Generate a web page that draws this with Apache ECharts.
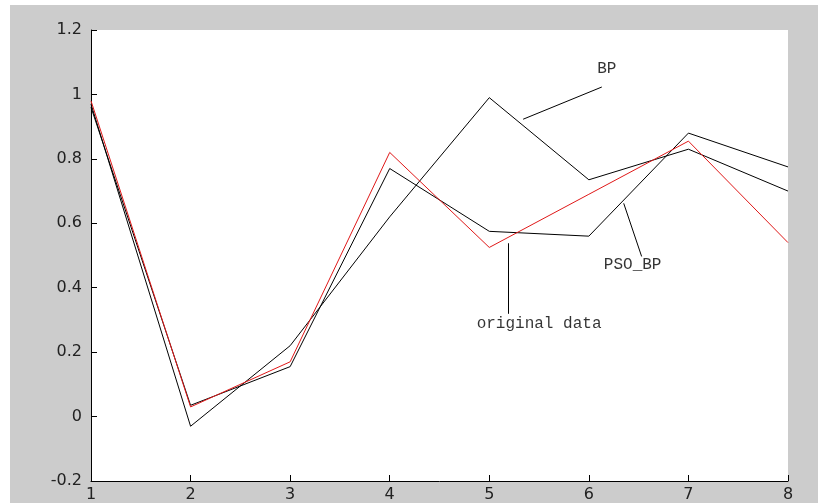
<!DOCTYPE html>
<html>
<head>
<meta charset="utf-8">
<script src="https://cdn.jsdelivr.net/npm/echarts@6/dist/echarts.min.js"></script>
<style>
  html, body { margin: 0; padding: 0; background: #ffffff; }
  #chart { width: 818px; height: 503px; }
</style>
</head>
<body>
<div id="chart"></div>
<script>
// Sample index along the horizontal axis
const samples = [1, 2, 3, 4, 5, 6, 7, 8];

// Measured series and the two network predictions
const originalData = [0.98, 0.03, 0.17, 0.82, 0.525, 0.69, 0.855, 0.54];
const bpOutput     = [0.97, -0.03, 0.22, 0.62, 0.99, 0.735, 0.83, 0.70];
const psoBpOutput  = [0.96, 0.035, 0.155, 0.77, 0.575, 0.56, 0.88, 0.775];

// Axis ticks
const yTicks = [-0.2, 0, 0.2, 0.4, 0.6, 0.8, 1, 1.2];

// Callout annotations: label text, label anchor, and leader line (data units)
const calloutText   = ['BP', 'original data', 'PSO_BP'];
const calloutAnchor = [[6.18, 1.08], [5.50, 0.288], [6.44, 0.471]];
const calloutLeader = [
  [[6.13, 1.023], [5.34, 0.923]],
  [[5.19, 0.538], [5.19, 0.319]],
  [[6.35, 0.662], [6.53, 0.497]]
];

const pairs = (vals) => samples.map((x, i) => [x, vals[i]]);

const chart = echarts.init(document.getElementById('chart'), null, { renderer: 'canvas' });

const axisLabelStyle = {
  color: '#222222',
  fontFamily: 'DejaVu Sans',
  fontSize: 16
};

chart.setOption({
  animation: false,
  backgroundColor: '#ffffff',
  graphic: [{
    type: 'rect',
    z: -10,
    silent: true,
    shape: { x: 10, y: 5, width: 808, height: 498 },
    style: { fill: '#cccccc' }
  }],
  grid: {
    left: 91, top: 30, right: 30, bottom: 22,
    show: true, backgroundColor: '#ffffff', borderWidth: 0
  },
  xAxis: {
    type: 'value',
    min: 1, max: 8, interval: 1,
    splitLine: { show: false },
    axisLine: { show: true, onZero: false, lineStyle: { color: '#000', width: 1 } },
    axisTick: { show: true, inside: true, length: 6, lineStyle: { color: '#000' } },
    axisLabel: Object.assign({ margin: 6 }, axisLabelStyle)
  },
  yAxis: {
    type: 'value',
    min: yTicks[0], max: yTicks[yTicks.length - 1], interval: 0.2,
    splitLine: { show: false },
    axisLine: { show: true, onZero: false, lineStyle: { color: '#000', width: 1 } },
    axisTick: { show: true, inside: true, length: 6, lineStyle: { color: '#000' } },
    axisLabel: Object.assign({
      margin: 9,
      formatter: (v) => String(Math.round(v * 10) / 10)
    }, axisLabelStyle)
  },
  series: [
    {
      name: 'BP', type: 'line', data: pairs(bpOutput),
      symbol: 'none', lineStyle: { color: '#000', width: 1 }
    },
    {
      name: 'PSO_BP', type: 'line', data: pairs(psoBpOutput),
      symbol: 'none', lineStyle: { color: '#000', width: 1 }
    },
    {
      name: 'original data', type: 'line', data: pairs(originalData),
      symbol: 'none', lineStyle: { color: '#e01818', width: 1 },
      z: 3
    },
    {
      // leader lines for the callouts
      name: 'leaders', type: 'lines', coordinateSystem: 'cartesian2d',
      polyline: false, silent: true,
      lineStyle: { color: '#000', width: 1, opacity: 1 },
      data: calloutLeader.map((c) => ({ coords: c }))
    },
    {
      // callout labels
      name: 'callouts', type: 'scatter', symbolSize: 0, silent: true,
      data: calloutAnchor.map((p, i) => ({ value: p, name: calloutText[i] })),
      label: {
        show: true, position: 'inside',
        formatter: (p) => p.name,
        color: '#000',
        fontFamily: 'Liberation Mono',
        fontSize: 16
      }
    }
  ]
});
</script>
</body>
</html>
